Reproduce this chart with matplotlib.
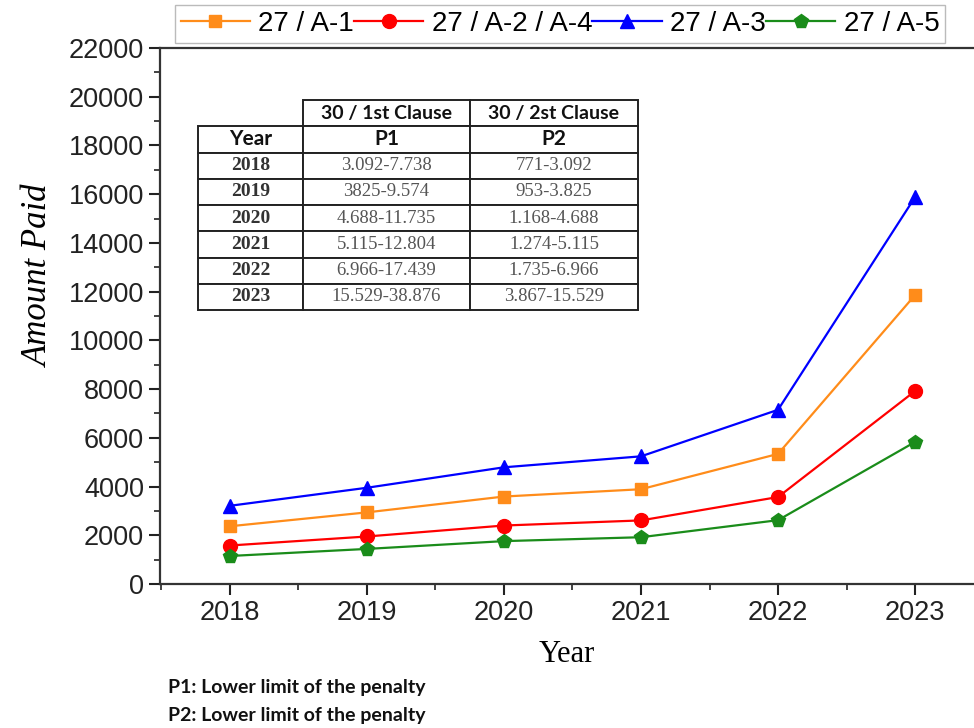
import numpy as np
import matplotlib
matplotlib.use("Agg")
import matplotlib.pyplot as plt
from matplotlib.ticker import MultipleLocator

# data
years = [2018, 2019, 2020, 2021, 2022, 2023]
a1 = [2370, 2940, 3590, 3890, 5340, 11860]        # 27 / A-1
a2_a4 = [1580, 1950, 2400, 2610, 3570, 7920]      # 27 / A-2 / A-4
a3 = [3210, 3950, 4790, 5240, 7150, 15880]        # 27 / A-3
a5 = [1150, 1440, 1760, 1920, 2620, 5830]         # 27 / A-5

table_years = ["2018", "2019", "2020", "2021", "2022", "2023"]
p1_ranges = ["3.092-7.738", "3825-9.574", "4.688-11.735",
             "5.115-12.804", "6.966-17.439", "15.529-38.876"]
p2_ranges = ["771-3.092", "953-3.825", "1.168-4.688",
             "1.274-5.115", "1.735-6.966", "3.867-15.529"]

fig = plt.figure(figsize=(9.74, 7.28), dpi=100)
ax = fig.add_axes([160/974, 1 - 584/728, 814/974, 536/728])

series = [
    (a1, "27 / A-1", "#ff8c1a", "s", 9),
    (a2_a4, "27 / A-2 / A-4", "#ff0000", "o", 10),
    (a3, "27 / A-3", "#0000ff", "^", 10.5),
    (a5, "27 / A-5", "#1a8c1a", "p", 10.5),
]
for vals, lab, col, mk, ms in series:
    ax.plot(years, vals, color=col, marker=mk, markersize=ms, lw=1.6, label=lab)

ax.set_xlim(2017.49, 2023.43)
ax.set_ylim(0, 22000)
ax.xaxis.set_major_locator(MultipleLocator(1))
ax.xaxis.set_minor_locator(MultipleLocator(0.5))
ax.yaxis.set_major_locator(MultipleLocator(2000))
ax.yaxis.set_minor_locator(MultipleLocator(1000))
ax.tick_params(which="major", length=8, width=1.5, labelsize=19.5, colors="#222222",
               direction="out")
ax.tick_params(which="minor", length=4, width=1.2, colors="#222222", direction="out")
for lbl in ax.get_xticklabels() + ax.get_yticklabels():
    lbl.set_fontfamily("Liberation Sans")
ax.spines["right"].set_visible(False)
for s in ["left", "bottom", "top"]:
    ax.spines[s].set_linewidth(1.6)
    ax.spines[s].set_color("#333333")

ax.set_ylabel("Amount Paid", fontsize=25, fontstyle="italic",
              fontfamily="Liberation Serif")
ax.yaxis.set_label_coords(-0.128, 0.575)
ax.set_xlabel("Year", fontsize=22, fontfamily="Liberation Serif", labelpad=10)

# inset table
cells = [["", "30 / 1st Clause", "30 / 2st Clause"],
         ["Year", "P1", "P2"]]
for y, p1, p2 in zip(table_years, p1_ranges, p2_ranges):
    cells.append([y, p1, p2])
col_w = np.array([105, 167, 168]) / 440
tbl = ax.table(cellText=cells, colWidths=list(col_w), cellLoc="center",
               bbox=[38/814, (584-310)/536, 440/814, 210/536])
tbl.auto_set_font_size(False)
for (r, c), cell in tbl.get_celld().items():
    cell.set_linewidth(1.4)
    cell.set_edgecolor("#222222")
    txt = cell.get_text()
    if r == 0 and c == 0:
        cell.visible_edges = ""
        continue
    if r <= 1:
        txt.set_fontfamily("Lato")
        txt.set_fontweight("bold")
        txt.set_fontsize(14 if r == 0 else 15)
        txt.set_color("#111111")
    elif c == 0:
        txt.set_fontfamily("Liberation Serif")
        txt.set_fontweight("bold")
        txt.set_fontsize(14)
        txt.set_color("#333333")
    else:
        txt.set_fontfamily("Liberation Serif")
        txt.set_fontsize(13.5)
        txt.set_color("#555555")

fig.legend(loc="center", bbox_to_anchor=(560/974, 1 - 24/728), ncol=4,
           prop={"family": "Liberation Sans", "size": 20}, frameon=True,
           fancybox=False, edgecolor="#aaaaaa", handlelength=2.5,
           handletextpad=0.3, columnspacing=0.0, borderpad=0.2,
           borderaxespad=0)

fig.text(168/974, 1 - 688/728, "P1: Lower limit of the penalty", fontsize=14,
         fontweight="bold", fontfamily="Lato", va="center", color="#111111")
fig.text(168/974, 1 - 715/728, "P2: Lower limit of the penalty", fontsize=14,
         fontweight="bold", fontfamily="Lato", va="center", color="#111111")

fig.savefig("out.png", dpi=100)
